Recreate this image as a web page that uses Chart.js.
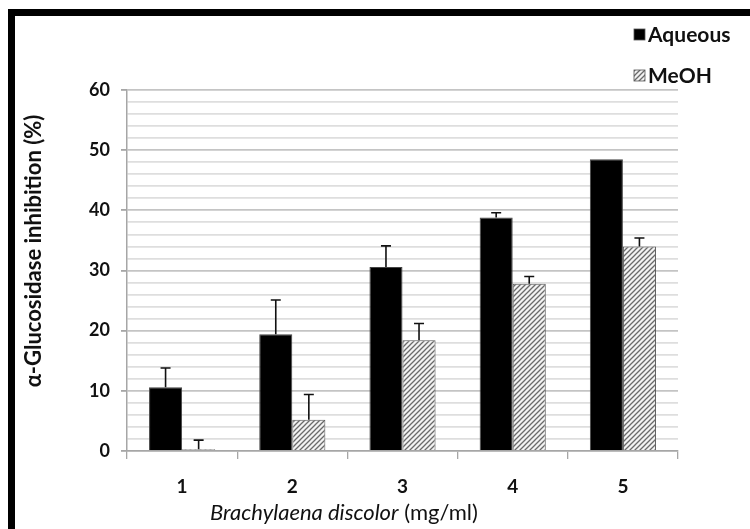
<!DOCTYPE html>
<html>
<head>
<meta charset="utf-8">
<script src="https://cdn.jsdelivr.net/npm/chart.js@4.4.1/dist/chart.umd.min.js"></script>
<style>
  html, body { margin: 0; padding: 0; background: #fff; }
  #wrap { position: relative; width: 750px; height: 529px; overflow: hidden; }
  #frame { position: absolute; left: 8px; top: 9px; right: -10px; bottom: -10px;
           border-top: 7px solid #000; border-left: 7px solid #000; pointer-events: none; }
</style>
</head>
<body>
<div id="wrap">
  <canvas id="chart" width="750" height="529"></canvas>
  <div id="frame"></div>
</div>
<script>
const categories = ['1', '2', '3', '4', '5'];
const aqueous = [10.6, 19.4, 30.6, 38.8, 48.5];
const aqueousSd = [3.2, 5.7, 3.5, 0.8, 0];
const meoh = [0.3, 5.2, 18.4, 27.8, 34.0];
const meohSd = [1.5, 4.2, 2.8, 1.2, 1.4];
const yMax = 60;
const yMajorStep = 10;
const yMinorStep = 2;
const yTitle = 'α-Glucosidase inhibition (%)';
const xTitleItalic = 'Brachylaena discolor';
const xTitleUnit = ' (mg/ml)';

const FONT = 'Lato, "Open Sans", "DejaVu Sans", sans-serif';

const ctx = document.getElementById('chart').getContext('2d');

function makeHatch() {
  const c = document.createElement('canvas');
  c.width = 5;
  c.height = 5;
  const g = c.getContext('2d');
  g.fillStyle = '#f2f2f2';
  g.fillRect(0, 0, 5, 5);
  g.strokeStyle = '#6a6a6a';
  g.lineWidth = 1.3;
  g.beginPath();
  g.moveTo(-1, 6); g.lineTo(6, -1);
  g.moveTo(-3.5, 3.5); g.lineTo(3.5, -3.5);
  g.moveTo(1.5, 8.5); g.lineTo(8.5, 1.5);
  g.stroke();
  return ctx.createPattern(c, 'repeat');
}
const hatch = makeHatch();

// upward-only error bars with a small cap
const errorBars = {
  id: 'errorBars',
  afterDatasetsDraw(chart) {
    const y = chart.scales.y;
    const sds = [aqueousSd, meohSd];
    const c = chart.ctx;
    c.save();
    c.strokeStyle = '#111';
    c.lineWidth = 1.6;
    chart.data.datasets.forEach((ds, i) => {
      chart.getDatasetMeta(i).data.forEach((bar, j) => {
        const sd = sds[i][j];
        if (!sd) return;
        const top = y.getPixelForValue(ds.data[j] + sd);
        c.beginPath();
        c.moveTo(bar.x, bar.y);
        c.lineTo(bar.x, top);
        c.moveTo(bar.x - 5, top);
        c.lineTo(bar.x + 5, top);
        c.stroke();
      });
    });
    c.restore();
  }
};

// legend stacked in the top right corner + axis titles (x title has mixed styles)
const extras = {
  id: 'extras',
  afterDraw(chart) {
    const c = chart.ctx;
    c.save();
    const rows = [35, 76];
    chart.data.datasets.forEach((ds, i) => {
      const ym = rows[i];
      c.fillStyle = ds.backgroundColor;
      c.fillRect(634, ym - 6, 11, 11);
      c.strokeStyle = '#555';
      c.lineWidth = 0.8;
      c.strokeRect(634, ym - 6, 11, 11);
      c.fillStyle = '#111';
      c.font = 'bold 21px ' + FONT;
      c.textBaseline = 'middle';
      c.textAlign = 'left';
      c.fillText(ds.label, 648, ym);
    });

    const f1 = 'italic 22px ' + FONT;
    const f2 = '22px ' + FONT;
    c.font = f1;
    const w1 = c.measureText(xTitleItalic).width;
    c.font = f2;
    const w2 = c.measureText(xTitleUnit).width;
    const x0 = 344 - (w1 + w2) / 2;
    c.textBaseline = 'middle';
    c.fillStyle = '#111';
    c.font = f1;
    c.fillText(xTitleItalic, x0, 513);
    c.font = f2;
    c.fillText(xTitleUnit, x0 + w1, 513);

    c.translate(34, 251);
    c.rotate(-Math.PI / 2);
    c.textAlign = 'center';
    c.font = 'bold 22px ' + FONT;
    c.fillText(yTitle, 0, 0);
    c.restore();
  }
};

new Chart(ctx, {
  type: 'bar',
  data: {
    labels: categories,
    datasets: [
      {
        label: 'Aqueous',
        data: aqueous,
        backgroundColor: '#000',
        borderColor: '#444',
        borderWidth: 1
      },
      {
        label: 'MeOH',
        data: meoh,
        backgroundColor: hatch,
        borderColor: '#555',
        borderWidth: 1
      }
    ]
  },
  options: {
    responsive: false,
    animation: false,
    devicePixelRatio: 1,
    layout: { padding: { left: 50, top: 90, right: 72, bottom: 0 } },
    plugins: {
      legend: { display: false },
      tooltip: { enabled: false }
    },
    datasets: {
      bar: { categoryPercentage: 0.6, barPercentage: 1.0 }
    },
    scales: {
      x: {
        grid: {
          drawOnChartArea: false,
          tickLength: 8,
          tickColor: '#a6a6a6',
          lineWidth: 1.3
        },
        border: { color: '#a6a6a6', width: 1.5 },
        ticks: {
          color: '#111',
          padding: 16,
          font: { family: FONT, size: 19, weight: 'bold' }
        },
        afterFit(scale) { scale.height = 78; }
      },
      y: {
        min: 0,
        max: yMax,
        ticks: {
          stepSize: yMinorStep,
          autoSkip: false,
          color: '#111',
          padding: 11,
          font: { family: FONT, size: 18, weight: 'bold' },
          callback: v => (v % yMajorStep === 0 ? v : '')
        },
        grid: {
          tickLength: 6,
          color: c => (c.tick && c.tick.value % yMajorStep === 0 ? '#c4c4c4' : '#dedede'),
          tickColor: c => (c.tick && c.tick.value % yMajorStep === 0 ? '#a6a6a6' : 'rgba(0,0,0,0)'),
          lineWidth: 1.8
        },
        border: { color: '#a6a6a6', width: 1.5 },
        afterFit(scale) { scale.width = 127 - 50; }
      }
    }
  },
  plugins: [errorBars, extras]
});
</script>
</body>
</html>
